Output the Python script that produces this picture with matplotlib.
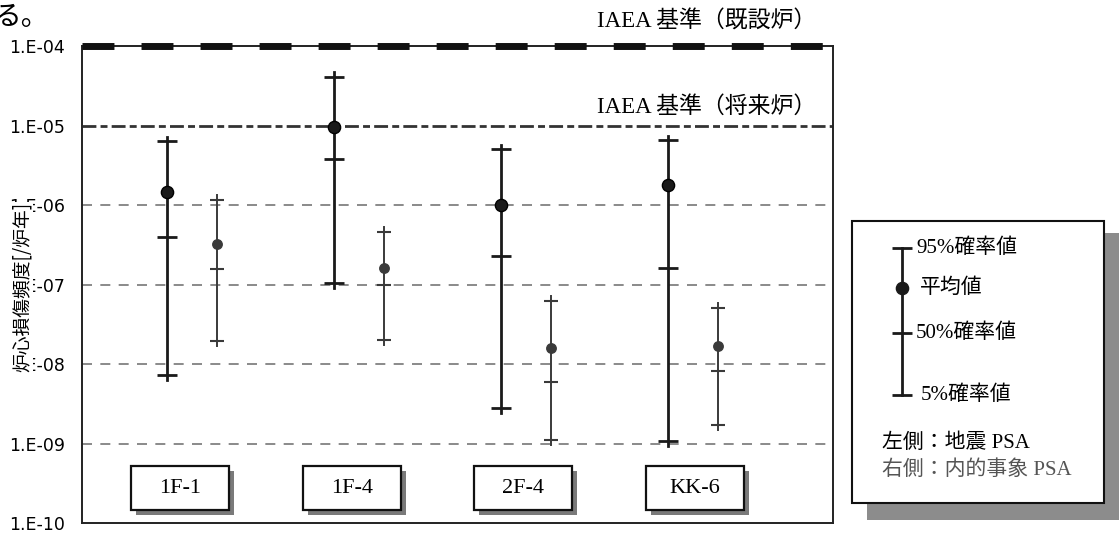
import matplotlib
matplotlib.use("Agg")
import matplotlib.pyplot as plt
import matplotlib.transforms as mtransforms
from matplotlib.patches import Rectangle
import numpy as np

# ---------------- data ----------------
plants = ['1F-1', '1F-4', '2F-4', 'KK-6']
# seismic PSA (left bars)
seis_p95 = [6.3e-6, 4.1e-5, 5.0e-6, 6.5e-6]
seis_mean = [1.45e-6, 9.7e-6, 1.0e-6, 1.8e-6]
seis_p50 = [4.0e-7, 3.75e-6, 2.3e-7, 1.6e-7]
seis_p05 = [7.3e-9, 1.05e-7, 2.8e-9, 1.07e-9]
# internal event PSA (right bars)
int_p95 = [1.16e-6, 4.6e-7, 6.2e-8, 5.1e-8]
int_mean = [3.2e-7, 1.6e-7, 1.6e-8, 1.7e-8]
int_p50 = [1.55e-7, 1.0e-7, 6.0e-9, 8.2e-9]
int_p05 = [1.94e-8, 2.0e-8, 1.1e-9, 1.7e-9]

ytick_values = [1e-10, 1e-9, 1e-8, 1e-7, 1e-6, 1e-5, 1e-4]
ytick_labels = ['1.E-10', '1.E-09', '1.E-08', '1.E-07', '1.E-06', '1.E-05', '1.E-04']
grid_values = [1e-9, 1e-8, 1e-7, 1e-6]
iaea_existing = 1e-4
iaea_future = 1e-5
label_existing = 'IAEA 基準（既設炉）'
label_future = 'IAEA 基準（将来炉）'
ylabel = '炉心損傷頻度[/炉年]'
legend_labels = ['95%確率値', '平均値', '50%確率値', '5%確率値']
legend_note1 = '左側：地震 PSA'
legend_note2 = '右側：内的事象 PSA'

# ---------------- figure ----------------
W, H = 1119, 539
fig = plt.figure(figsize=(W / 100, H / 100), dpi=100)
SERIF = ['Liberation Serif', 'Noto Sans CJK JP']
CJK = ['Noto Sans CJK JP', 'DejaVu Sans']


def fx(px):
    return px / W


def fy(py):
    return 1 - py / H


ax = fig.add_axes([fx(82), fy(523), (833 - 82) / W, (523 - 46) / H])
ax.set_yscale('log')
ax.set_ylim(1e-10, 1e-4)
ax.set_xlim(-0.509, 3.988)
ax.set_yticks(ytick_values)
ax.set_yticklabels(ytick_labels, fontsize=12.5, family='DejaVu Sans')
ax.minorticks_off()
ax.tick_params(axis='y', length=0, pad=12)
ax.set_xticks([])
for s in ax.spines.values():
    s.set_linewidth(1.4)
    s.set_color('#222222')

# grid lines
for g in grid_values:
    ax.axhline(g, color='#777777', lw=1.2, ls=(0, (6, 5)), zorder=1)
ax.axhline(iaea_future, color='#333333', lw=2.0, ls=(0, (5, 1.5, 2.5, 1.5)), zorder=1)
ax.axhline(iaea_existing, color='#111111', lw=5.0, ls=(0, (4.6, 3.9)),
           solid_capstyle='butt', dash_capstyle='butt', clip_on=False, zorder=3)

ext = 1.15
x = np.arange(len(plants))
dx_int = 0.30
for i in range(len(plants)):
    # seismic
    xs = x[i]
    ax.plot([xs, xs], [seis_p05[i] / ext, seis_p95[i] * ext], color='#1a1a1a', lw=2.0, zorder=4)
    ax.plot([xs] * 3, [seis_p95[i], seis_p50[i], seis_p05[i]], ls='none', marker='_',
            ms=14.5, mew=2.0, color='#1a1a1a', zorder=5)
    ax.plot([xs], [seis_mean[i]], ls='none', marker='o', ms=8.8, color='#1a1a1a',
            mec='#000000', zorder=6)
    # internal
    xi = x[i] + dx_int
    ax.plot([xi, xi], [int_p05[i] / ext, int_p95[i] * ext], color='#3a3a3a', lw=1.4, zorder=4)
    ax.plot([xi] * 3, [int_p95[i], int_p50[i], int_p05[i]], ls='none', marker='_',
            ms=10.5, mew=1.5, color='#3a3a3a', zorder=5)
    ax.plot([xi], [int_mean[i]], ls='none', marker='o', ms=6.8, color='#3a3a3a', zorder=6)

# plant label boxes
blend = mtransforms.blended_transform_factory(ax.transData, ax.transAxes)
shadow_tr = blend + mtransforms.ScaledTranslation(5 / 100, -5 / 100, fig.dpi_scale_trans)
bw = 0.587
by0, by1 = 0.027, 0.1195
for i, name in enumerate(plants):
    cx = x[i] + 0.08 + 0.027 * i
    ax.add_patch(Rectangle((cx - bw / 2, by0), bw, by1 - by0, transform=shadow_tr,
                           facecolor='#7a7a7a', edgecolor='none', zorder=6, clip_on=False))
    ax.add_patch(Rectangle((cx - bw / 2, by0), bw, by1 - by0, transform=blend,
                           facecolor='white', edgecolor='#111111', lw=1.6, zorder=7, clip_on=False))
    ax.text(cx, (by0 + by1) / 2, name, transform=blend, ha='center', va='center',
            fontsize=16, family=SERIF, zorder=8)

# IAEA labels
fig.text(fx(597), fy(22), label_existing, ha='left', va='center', fontsize=16.5, family=SERIF)
fig.text(fx(597), fy(107), label_future, ha='left', va='center', fontsize=16.5, family=SERIF)

# y label (drawn over the tick labels, as in the scanned original)
fig.text(fx(22), fy(287), ylabel, rotation=90, ha='center', va='center', fontsize=13.5, family=CJK,
         bbox=dict(facecolor='white', edgecolor='none', pad=0.3), zorder=10)

# page fragment top-left
fig.text(fx(-6), fy(17), 'る。', ha='left', va='center', fontsize=20, family=CJK)

# legend box
lax = fig.add_axes([fx(852), fy(503), (1104 - 852) / W, (503 - 221) / H])
lax.set_zorder(5)
lax.set_xlim(852, 1104)
lax.set_ylim(503, 221)
lax.axis('off')
lax.add_patch(Rectangle((867, 233), 1125 - 867, 520 - 233, facecolor='#8c8c8c',
                        edgecolor='none', clip_on=False, zorder=0))
lax.add_patch(Rectangle((852, 221), 1104 - 852, 503 - 221, facecolor='white',
                        edgecolor='#111111', lw=1.5, clip_on=False, zorder=1))
lx = 902
ly = [248, 288, 333, 395]
lax.plot([lx, lx], [ly[0], ly[3]], color='#1a1a1a', lw=2.0, zorder=3)
lax.plot([lx] * 3, [ly[0], ly[2], ly[3]], ls='none', marker='_', ms=14.5, mew=2.0,
         color='#1a1a1a', zorder=3)
lax.plot([lx], [ly[1]], ls='none', marker='o', ms=8.8, color='#1a1a1a', zorder=3)
lxt = [916, 920, 916, 921]
for t, xx, yy in zip(legend_labels, lxt, ly):
    lax.text(xx, yy, t, ha='left', va='center', fontsize=15, family=SERIF, zorder=4)
lax.text(882, 443, legend_note1, ha='left', va='center', fontsize=15, family=SERIF, zorder=4)
lax.text(882, 470, legend_note2, ha='left', va='center', fontsize=15, family=SERIF,
         color='#555555', zorder=4)

fig.savefig('out.png', dpi=100)
